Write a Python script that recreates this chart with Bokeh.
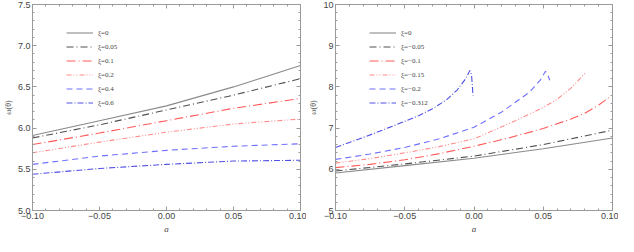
from bokeh.plotting import figure
from bokeh.layouts import row
from bokeh.models import LinearAxis, SingleIntervalTicker, CustomJSTickFormatter, Legend, LegendItem
from bokeh.embed import file_html
from bokeh.resources import INLINE

# ---------------- data: left panel (xi >= 0) ----------------
a_left = [-0.10, -0.05, 0.00, 0.05, 0.10]
w_xi0 = [5.91, 6.09, 6.27, 6.50, 6.76]
w_xi005 = [5.88, 6.04, 6.22, 6.40, 6.60]
w_xi01 = [5.80, 5.94, 6.09, 6.24, 6.36]
w_xi02 = [5.70, 5.83, 5.95, 6.05, 6.11]
w_xi04 = [5.56, 5.66, 5.73, 5.78, 5.81]
w_xi06 = [5.44, 5.51, 5.56, 5.60, 5.61]
left_labels = ["ξ=0", "ξ=0.05", "ξ=0.1", "ξ=0.2", "ξ=0.4", "ξ=0.6"]

# ---------------- data: right panel (xi <= 0) ----------------
a_r0 = [-0.10, -0.05, 0.00, 0.05, 0.10]
w_r0 = [5.91, 6.09, 6.27, 6.50, 6.76]
a_rm005 = [-0.10, -0.05, 0.00, 0.05, 0.10]
w_rm005 = [5.96, 6.13, 6.32, 6.60, 6.95]
a_rm01 = [-0.10, -0.075, -0.05, -0.025, 0.00, 0.025, 0.05, 0.07, 0.08, 0.09, 0.10]
w_rm01 = [6.04, 6.12, 6.23, 6.38, 6.56, 6.76, 6.99, 7.22, 7.36, 7.56, 7.80]
a_rm015 = [-0.10, -0.075, -0.05, -0.025, 0.00, 0.03, 0.05, 0.06, 0.07, 0.081]
w_rm015 = [6.15, 6.26, 6.40, 6.55, 6.74, 7.18, 7.50, 7.70, 7.97, 8.36]
a_rm02 = [-0.10, -0.075, -0.05, -0.025, 0.00, 0.02, 0.04, 0.048, 0.0516, 0.053, 0.0547]
w_rm02 = [6.24, 6.37, 6.53, 6.74, 7.02, 7.39, 7.87, 8.17, 8.38, 8.32, 8.16]
a_rm0312 = [-0.10, -0.08, -0.06, -0.04, -0.03, -0.02, -0.012, -0.006, -0.003, -0.0018, -0.0007]
w_rm0312 = [6.53, 6.77, 7.03, 7.30, 7.47, 7.68, 7.93, 8.20, 8.40, 8.30, 7.79]
right_labels = ["ξ=0", "ξ=−0.05", "ξ=−0.1", "ξ=−0.15", "ξ=−0.2", "ξ=−0.312"]

x_axis_label = "a"
y_axis_label = "ω(θ)"

styles = [
    dict(color="#8a8a8a", dash="solid"),
    dict(color="#505050", dash="7 3 1 3"),
    dict(color="#ff5a5a", dash="9 3 1 3"),
    dict(color="#ff8c8c", dash="5 2 1 2 1 2"),
    dict(color="#7070ff", dash="6 4"),
    dict(color="#5050e6", dash="6 2 1 2"),
]

AX = "#9a9a9a"
TXT = "#444444"


def fmt(nd):
    return CustomJSTickFormatter(code="return tick.toFixed(%d).replace('-', '\u2212');" % nd)


def style_axis(ax, show_labels):
    ax.axis_line_color = AX
    ax.major_tick_line_color = AX
    ax.minor_tick_line_color = AX
    ax.major_tick_in = 4
    ax.major_tick_out = 0
    ax.minor_tick_in = 2
    ax.minor_tick_out = 0
    ax.major_label_text_font = "Liberation Sans"
    ax.major_label_text_font_size = "9px"
    ax.major_label_text_color = TXT
    ax.major_label_standoff = 2
    if not show_labels:
        ax.major_label_text_alpha = 0
        ax.major_label_text_font_size = "1px"
        ax.major_label_standoff = 0


def make_fig(width, yr, ystep, yminor, ydec, series, labels, border_left):
    p = figure(width=width, height=236, x_range=(-0.1, 0.1), y_range=yr,
               output_backend="svg", toolbar_location=None,
               min_border_left=border_left, min_border_right=6,
               min_border_top=4, min_border_bottom=4)
    p.grid.visible = False
    p.outline_line_color = None
    p.background_fill_color = "white"
    p.border_fill_color = "white"

    p.xaxis.ticker = SingleIntervalTicker(interval=0.05, num_minor_ticks=5)
    p.yaxis.ticker = SingleIntervalTicker(interval=ystep, num_minor_ticks=yminor)
    p.xaxis.formatter = fmt(2)
    p.yaxis.formatter = fmt(ydec)
    for ax in p.xaxis + p.yaxis:
        style_axis(ax, True)
    p.xaxis.axis_label = x_axis_label
    p.xaxis.axis_label_text_font = "Liberation Serif"
    p.xaxis.axis_label_text_font_style = "italic"
    p.xaxis.axis_label_text_font_size = "9px"
    p.xaxis.axis_label_text_color = TXT
    p.xaxis.axis_label_standoff = 2
    p.yaxis.axis_label = y_axis_label
    p.yaxis.axis_label_text_font = "Liberation Serif"
    p.yaxis.axis_label_text_font_style = "normal"
    p.yaxis.axis_label_text_font_size = "8px"
    p.yaxis.axis_label_text_color = TXT
    p.yaxis.axis_label_standoff = 2

    top = LinearAxis(ticker=SingleIntervalTicker(interval=0.05, num_minor_ticks=5))
    right = LinearAxis(ticker=SingleIntervalTicker(interval=ystep, num_minor_ticks=yminor))
    style_axis(top, False)
    style_axis(right, False)
    p.add_layout(top, "above")
    p.add_layout(right, "right")

    items = []
    for (xs, ys), st, lab in zip(series, styles, labels):
        r = p.line(xs, ys, line_color=st["color"], line_dash=st["dash"], line_width=1.1)
        items.append(LegendItem(label=lab, renderers=[r]))

    leg = Legend(items=items, location=(34, 102))
    leg.border_line_color = None
    leg.background_fill_alpha = 0
    leg.label_text_font = "Liberation Serif"
    leg.label_text_font_size = "7px"
    leg.label_text_color = TXT
    leg.glyph_width = 27
    leg.glyph_height = 11
    leg.label_height = 11
    leg.spacing = 3
    leg.label_standoff = 5
    leg.padding = 4
    leg.margin = 0
    p.add_layout(leg, "center")
    return p


left_series = [(a_left, w_xi0), (a_left, w_xi005), (a_left, w_xi01),
               (a_left, w_xi02), (a_left, w_xi04), (a_left, w_xi06)]
right_series = [(a_r0, w_r0), (a_rm005, w_rm005), (a_rm01, w_rm01),
                (a_rm015, w_rm015), (a_rm02, w_rm02), (a_rm0312, w_rm0312)]

p1 = make_fig(306, (5, 7.5), 0.5, 5, 1, left_series, left_labels, 20)
p2 = make_fig(312, (5, 10), 1, 5, 0, right_series, right_labels, 26)

layout = row(p1, p2)
open("out.html", "w").write(file_html(layout, INLINE))
